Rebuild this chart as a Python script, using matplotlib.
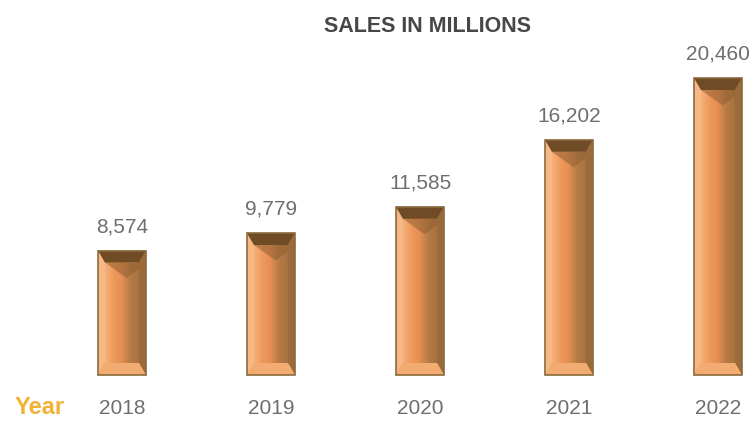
import numpy as np
import matplotlib.pyplot as plt
from matplotlib.patches import Polygon, Rectangle

years = ["2018", "2019", "2020", "2021", "2022"]
sales = [8574, 9779, 11585, 16202, 20460]
value_labels = ["8,574", "9,779", "11,585", "16,202", "20,460"]

plt.rcParams["font.family"] = ["Liberation Sans", "DejaVu Sans"]

W, H = 750, 421
fig = plt.figure(figsize=(W / 100, H / 100), dpi=100)
ax = fig.add_axes([0, 0, 1, 1])

# pixel layout: bar centres every ~149 px starting at 122, baseline at y=375 px
x0_px, step_px = 122, 149.0
base_px = 375
top_px = 78
units_per_px = max(sales) / (base_px - top_px)

ax.set_xlim(-x0_px / step_px, (W - x0_px) / step_px)
ax.set_ylim(-(H - base_px) * units_per_px, base_px * units_per_px)
ax.axis("off")

bar_w = 48 / step_px
dx = 7 / step_px          # side bevel width
dy = 12 * units_per_px    # top/bottom bevel height

edge_c = "#8a6a3e"
top_c = "#6f4c26"
left_c = "#f6b985"
right_c = "#9a6a3a"
bottom_c = "#f2ab70"

# horizontal gradient for the bar face: peach -> orange -> brown
face_cmap = plt.matplotlib.colors.LinearSegmentedColormap.from_list(
    "face", ["#f6b07a", "#ef9a5c", "#e48e52", "#b57b45", "#a87240"])
grad = np.linspace(0, 1, 64).reshape(1, -1)

for i, v in enumerate(sales):
    xl, xr = i - bar_w / 2, i + bar_w / 2
    ax.add_patch(Rectangle((xl, 0), bar_w, v, facecolor="#e89a5c",
                           edgecolor="none", zorder=1))
    im = ax.imshow(grad, cmap=face_cmap, aspect="auto", zorder=2,
                   extent=(xl + dx, xr - dx, dy, v - dy))
    im.set_clip_path(Rectangle((xl + dx, dy), bar_w - 2 * dx, v - 2 * dy,
                               transform=ax.transData))
    # bevels
    ax.add_patch(Polygon([(xl, v), (xl + dx, v - dy), (xl + dx, dy), (xl, 0)],
                         closed=True, facecolor=left_c, edgecolor="none", zorder=3))
    ax.add_patch(Polygon([(xr, v), (xr - dx, v - dy), (xr - dx, dy), (xr, 0)],
                         closed=True, facecolor=right_c, edgecolor="none", zorder=3))
    ax.add_patch(Polygon([(xl, 0), (xr, 0), (xr - dx, dy), (xl + dx, dy)],
                         closed=True, facecolor=bottom_c, edgecolor="none", zorder=3))
    ax.add_patch(Polygon([(xl, v), (xr, v), (xr - dx, v - dy), (xl + dx, v - dy)],
                         closed=True, facecolor=top_c, edgecolor="none", zorder=3))
    # dark wedge running down from the top-left corner
    ax.add_patch(Polygon([(xl + dx, v - dy), (xr - dx, v - dy),
                          (xr - dx, v - 1.5 * dy), (i + 0.1 * bar_w, v - 2.3 * dy)],
                         closed=True, facecolor="#8e5f32", alpha=0.55,
                         edgecolor="none", zorder=3))
    ax.add_patch(Rectangle((xl, 0), bar_w, v, facecolor="none",
                           edgecolor=edge_c, linewidth=1.2, zorder=4))

    ax.text(i, v + 24 * units_per_px, value_labels[i], ha="center", va="center",
            fontsize=15, color="#6e6e6e")
    ax.text(i, -(408 - base_px) * units_per_px, years[i], ha="center", va="center",
            fontsize=15, color="#6e6e6e")

ax.text(15 / W, 1 - 408 / H, "Year", transform=ax.transAxes, ha="left",
        va="center", fontsize=17, fontweight="bold", color="#f2b236")
ax.text(427 / W, 1 - 27 / H, "SALES IN MILLIONS", transform=ax.transAxes,
        ha="center", va="center", fontsize=15.5, fontweight="bold", color="#474747")

fig.savefig("out.png", dpi=100)
